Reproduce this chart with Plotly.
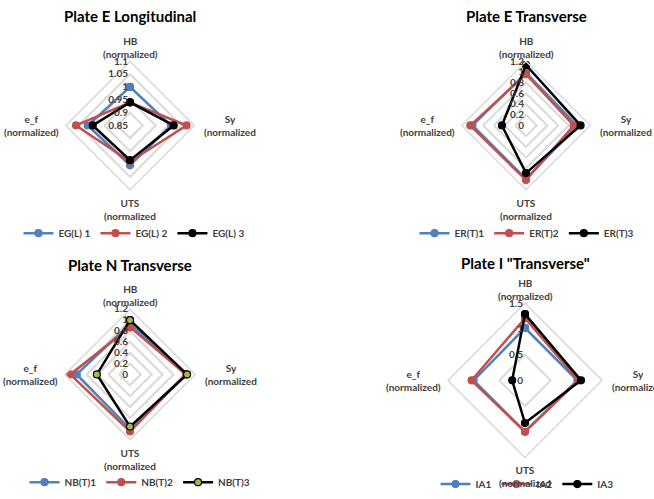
import plotly.graph_objects as go

categories = ["HB", "Sy", "UTS", "e_f"]
axis_labels = ["HB<br>(normalized)", "Sy<br>(normalized", "UTS<br>(normalized", "e_f<br>(normalized)"]

titles = ["Plate E Longitudinal", "Plate E Transverse", "Plate N Transverse", 'Plate I "Transverse"']

# Plate E Longitudinal
eg_names = ["EG(L) 1", "EG(L) 2", "EG(L) 3"]
eg_l1 = [1.00, 1.01, 1.005, 1.015]
eg_l2 = [0.94, 1.07, 0.99, 1.06]
eg_l3 = [0.94, 1.02, 0.985, 0.995]

# Plate E Transverse
er_names = ["ER(T)1", "ER(T)2", "ER(T)3"]
er_t1 = [0.98, 0.95, 1.00, 1.00]
er_t2 = [0.96, 0.89, 1.02, 1.04]
er_t3 = [1.13, 1.02, 0.89, 0.45]

# Plate N Transverse
nb_names = ["NB(T)1", "NB(T)2", "NB(T)3"]
nb_t1 = [0.93, 1.03, 1.00, 0.98]
nb_t2 = [0.87, 1.03, 1.05, 1.10]
nb_t3 = [1.00, 1.05, 0.96, 0.61]

# Plate I "Transverse"
ia_names = ["IA1", "IA2", "IA3"]
ia_1 = [1.02, 1.02, 1.00, 1.00]
ia_2 = [1.21, 1.04, 1.00, 1.04]
ia_3 = [1.29, 1.09, 0.83, 0.25]

radial_ranges = [[0.85, 1.1], [0, 1.2], [0, 1.2], [0, 1.5]]
radial_dticks = [0.05, 0.2, 0.2, 0.5]

W, H = 654, 499
# centers/radii in pixels
geo = [(130, 127, 65), (526, 127, 65), (130, 379, 66), (525, 385, 78)]
legend_pos = [(134, 236), (527, 236), (140, 488), (527, 490)]
title_pos = [(130, 16), (526, 16), (130, 268), (525, 266)]

blue = "#4F81BD"
red = "#C0504D"
black = "#000000"
green = "#9BBB59"

fig = go.Figure()

charts = [
    (eg_names, [eg_l1, eg_l2, eg_l3]),
    (er_names, [er_t1, er_t2, er_t3]),
    (nb_names, [nb_t1, nb_t2, nb_t3]),
    (ia_names, [ia_1, ia_2, ia_3]),
]

font_family = "Lato, Carlito, Calibri, sans-serif"
lab_font = dict(family=font_family, size=10, color="#404040", weight="bold")


def px(x, y):
    return x / W, 1 - y / H


for i, (names, series) in enumerate(charts):
    pid = "polar" if i == 0 else f"polar{i+1}"
    lid = "legend" if i == 0 else f"legend{i+1}"
    colors = [blue, red, black]
    for j, (nm, vals) in enumerate(zip(names, series)):
        mcol = colors[j]
        mline = colors[j]
        if i == 2 and j == 2:
            mcol = green
        fig.add_trace(go.Scatterpolar(
            r=vals + vals[:1],
            theta=categories + categories[:1],
            mode="lines+markers",
            name=nm,
            line=dict(color=colors[j], width=2.5),
            marker=dict(size=7, color=mcol, line=dict(color=mline, width=1.2)),
            subplot=pid,
            legend=lid,
        ))
    cx, cy, r = geo[i]
    dom_x = [(cx - r) / W, (cx + r) / W]
    dom_y = [1 - (cy + r) / H, 1 - (cy - r) / H]
    polar = dict(
        domain=dict(x=dom_x, y=dom_y),
        gridshape="linear",
        bgcolor="rgba(0,0,0,0)",
        radialaxis=dict(
            range=radial_ranges[i],
            dtick=radial_dticks[i],
            tick0=radial_ranges[i][0],
            angle=90,
            side="counterclockwise",
            showline=False,
            ticks="",
            gridcolor="#D9D9D9",
            gridwidth=1.5,
            tickfont=lab_font,
            tickangle=90,
        ),
        angularaxis=dict(
            rotation=90,
            direction="clockwise",
            showgrid=False,
            showline=True,
            linecolor="#D9D9D9",
            linewidth=1.5,
            ticks="",
            showticklabels=False,
        ),
    )
    lx, ly = legend_pos[i]
    legend = dict(
        orientation="h",
        x=lx / W, y=1 - ly / H,
        xanchor="center", yanchor="middle",
        font=lab_font,
        bgcolor="rgba(0,0,0,0)",
        itemwidth=30,
        tracegroupgap=0,
    )
    fig.update_layout(**{pid: polar, lid: legend})
    tx, ty = title_pos[i]
    x, y = px(tx, ty)
    fig.add_annotation(
        text=titles[i], x=x, y=y, xref="paper", yref="paper",
        xanchor="center", yanchor="middle", showarrow=False,
        font=dict(family=font_family, size=15, color="#000000", weight="bold"),
    )
    # axis category labels (centered multi-line, as in the reference)
    placements = [
        (cx, cy - r + 1, "center", "bottom"),
        (cx + r + 7, cy, "left", "middle"),
        (cx, cy + r + 5, "center", "top"),
        (cx - r - 4, cy, "right", "middle"),
    ]
    for k, (ax_, ay_, xa, ya) in enumerate(placements):
        x, y = px(ax_, ay_)
        fig.add_annotation(
            text=axis_labels[k], x=x, y=y, xref="paper", yref="paper",
            xanchor=xa, yanchor=ya, align="center", showarrow=False,
            font=lab_font,
        )

fig.update_layout(
    width=W, height=H,
    margin=dict(l=0, r=0, t=0, b=0),
    paper_bgcolor="white",
    plot_bgcolor="white",
    showlegend=True,
)

fig.write_html("out.html")
